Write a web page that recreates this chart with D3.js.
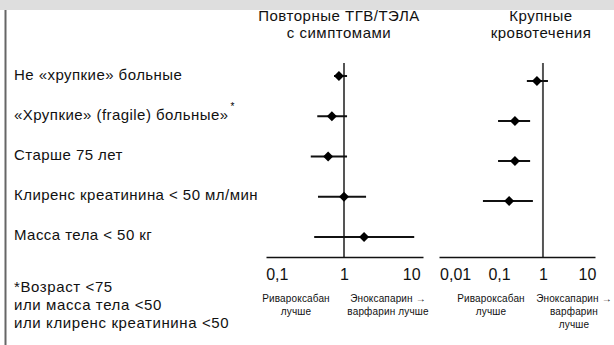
<!DOCTYPE html>
<html>
<head>
<meta charset="utf-8">
<script src="https://cdn.jsdelivr.net/npm/d3@7"></script>
<style>
  html, body { margin: 0; padding: 0; background: #fff; }
  svg { display: block; font-family: "Liberation Sans", Arial, sans-serif; }
</style>
</head>
<body>
<div id="chart"></div>
<script>
// subgroups (rows)
const categories = [
    "Не «хрупкие» больные",
    "«Хрупкие» (fragile) больные»",
    "Старше 75 лет",
    "Клиренс креатинина < 50 мл/мин",
    "Масса тела < 50 кг"
];

// recurrent symptomatic VTE: hazard ratio and 95% CI
const vteEst = [0.84, 0.66, 0.58, 1.0, 1.99];
const vteLo  = [0.71, 0.40, 0.32, 0.41, 0.36];
const vteHi  = [1.11, 1.11, 1.11, 2.13, 11.1];

// major bleeding (no estimate for the last row)
const bleedEst = [0.73, 0.23, 0.23, 0.17, null];
const bleedLo  = [0.43, 0.095, 0.095, 0.043, null];
const bleedHi  = [1.30, 0.51, 0.51, 0.59, null];

const vteTicks = [0.1, 1, 10];
const bleedTicks = [0.01, 0.1, 1, 10];

const footnote = ["*Возраст <75", "или масса тела <50", "или клиренс креатинина <50"];

const width = 614, height = 345;

const svg = d3.select("#chart").append("svg")
    .attr("width", width)
    .attr("height", height);

// top grey band and left border
svg.append("rect")
    .attr("x", 0).attr("y", 0)
    .attr("width", width).attr("height", 10)
    .attr("fill", "#dedede");
svg.append("line")
    .attr("x1", 5.5).attr("x2", 5.5)
    .attr("y1", 10).attr("y2", height)
    .attr("stroke", "#666").attr("stroke-width", 2);

// row labels
let yLabel = d3.scalePoint().domain(categories).range([75, 235]);
let labels = svg.append("g")
    .selectAll("text")
    .data(categories)
    .join("text")
    .attr("x", 14)
    .attr("y", d => yLabel(d))
    .attr("dy", "0.35em")
    .attr("font-size", 15)
    .attr("letter-spacing", 0.45)
    .attr("fill", "#111")
    .text(d => d);

// asterisk on the fragile row
let fragileLen = labels.filter((d, i) => i === 1).node().getComputedTextLength();
svg.append("text")
    .attr("x", 14 + fragileLen + 2)
    .attr("y", yLabel(categories[1]) - 5)
    .attr("font-size", 10)
    .text("*");

// footnote
svg.append("g")
    .selectAll("text")
    .data(footnote)
    .join("text")
    .attr("x", 14)
    .attr("y", (d, i) => 292 + i * 18)
    .attr("font-size", 15)
    .attr("letter-spacing", 0.6)
    .attr("fill", "#111")
    .text(d => d);

const fmt = d => String(d).replace(".", ",");

function drawPanel(opts) {
    let x = d3.scaleLog().domain(opts.domain).range(opts.range);
    let y = d3.scalePoint().domain(categories).range(opts.yRange);
    let g = svg.append("g");

    // titles
    g.append("g")
        .selectAll("text")
        .data(opts.title)
        .join("text")
        .attr("x", opts.titleX)
        .attr("y", (d, i) => 21 + i * 17)
        .attr("text-anchor", "middle")
        .attr("font-size", 15)
        .attr("letter-spacing", 0.5)
        .attr("fill", "#111")
        .text(d => d);

    // reference line at 1
    g.append("line")
        .attr("x1", x(1)).attr("x2", x(1))
        .attr("y1", 63).attr("y2", opts.axisY)
        .attr("stroke", "#555").attr("stroke-width", 2);

    // axis
    g.append("g")
        .attr("transform", `translate(0,${opts.axisY})`)
        .call(d3.axisBottom(x).tickValues(opts.ticks).tickFormat(fmt).tickSize(0).tickPadding(12))
        .call(g => g.select(".domain").attr("stroke", "#111").attr("stroke-width", 1.5))
        .call(g => g.selectAll(".tick text")
            .attr("font-size", 16)
            .attr("font-family", "Liberation Sans, Arial, sans-serif")
            .attr("fill", "#111"));

    let rows = categories.map((c, i) => ({c: c, est: opts.est[i], lo: opts.lo[i], hi: opts.hi[i]}))
        .filter(d => d.est != null);

    g.append("g")
        .selectAll("line")
        .data(rows)
        .join("line")
        .attr("x1", d => x(d.lo))
        .attr("x2", d => x(d.hi))
        .attr("y1", d => y(d.c))
        .attr("y2", d => y(d.c))
        .attr("stroke", "#111")
        .attr("stroke-width", 2);

    g.append("g")
        .selectAll("path")
        .data(rows)
        .join("path")
        .attr("transform", d => `translate(${x(d.est)},${y(d.c)}) rotate(45)`)
        .attr("d", d3.symbol(d3.symbolSquare, 50))
        .attr("fill", "#000");

    // direction captions
    opts.captions.forEach(cap => {
        g.append("g")
            .selectAll("text")
            .data(cap.lines)
            .join("text")
            .attr("x", cap.x)
            .attr("y", (d, i) => 302 + i * 13)
            .attr("text-anchor", "middle")
            .attr("font-size", 10)
            .attr("letter-spacing", 0.15)
            .attr("fill", "#111")
            .text(d => d);
    });
}

drawPanel({
    domain: [0.069, 15], range: [266, 423], yRange: [76, 237], axisY: 257,
    ticks: vteTicks, est: vteEst, lo: vteLo, hi: vteHi,
    title: ["Повторные ТГВ/ТЭЛА", "с симптомами"], titleX: 339,
    captions: [
        {x: 296, lines: ["Ривароксабан", "лучше"]},
        {x: 388, lines: ["Эноксапарин →", "варфарин лучше"]}
    ]
});

drawPanel({
    domain: [0.0043, 15.3], range: [439, 595], yRange: [81, 241], axisY: 257,
    ticks: bleedTicks, est: bleedEst, lo: bleedLo, hi: bleedHi,
    title: ["Крупные", "кровотечения"], titleX: 541,
    captions: [
        {x: 491, lines: ["Ривароксабан", "лучше"]},
        {x: 574, lines: ["Эноксапарин →", "варфарин", "лучше"]}
    ]
});
</script>
</body>
</html>
